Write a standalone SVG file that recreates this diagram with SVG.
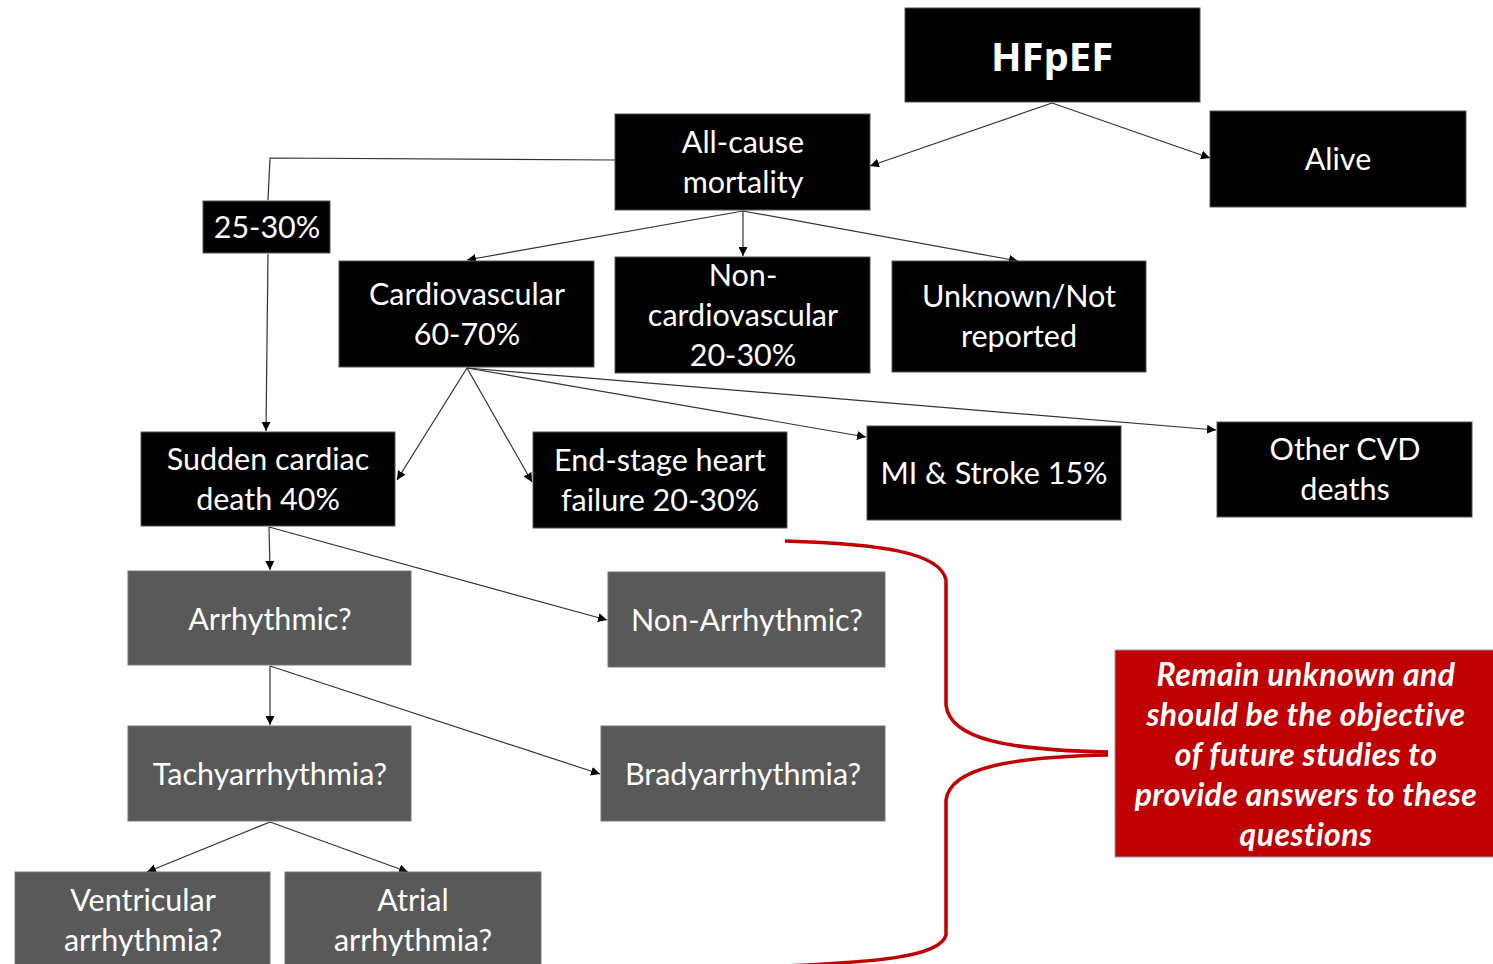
<svg xmlns="http://www.w3.org/2000/svg" width="1493" height="964" viewBox="0 0 1493 964">
<defs>
<style>
.b{fill:#000;stroke:#555;stroke-width:1}
.g{fill:#595959;stroke:#777;stroke-width:1}
.r{fill:#c00000;stroke:#999;stroke-width:1}
.t{font-family:Lato,"Open Sans","Liberation Sans",sans-serif;font-size:30.5px;fill:#fff;text-anchor:middle}
.h{font-family:"Open Sans",Lato,"Liberation Sans",sans-serif;font-size:40px;font-weight:bold;fill:#fff;text-anchor:middle}
.ti{font-family:Lato,"Open Sans","Liberation Sans",sans-serif;font-size:32px;font-weight:bold;font-style:italic;letter-spacing:0.4px;fill:#fff;text-anchor:middle}
.c{fill:none;stroke:#333;stroke-width:1.2;marker-end:url(#a)}
.l{fill:none;stroke:#333;stroke-width:1.2}
</style>
<marker id="a" viewBox="0 0 10 10" refX="10" refY="5" markerWidth="9" markerHeight="9" markerUnits="userSpaceOnUse" orient="auto">
<path d="M0,0 L10,5 L0,10 z" fill="#000"/>
</marker>
</defs>
<rect width="1493" height="964" fill="#fff"/>
<g id="connectors">
<line class="c" x1="1052" y1="103" x2="870" y2="166"/>
<line class="c" x1="1052" y1="103" x2="1210" y2="158"/>
<polyline class="l" points="615,160 270,158 268,200"/>
<line class="c" x1="268" y1="254" x2="266" y2="431"/>
<line class="c" x1="743" y1="211" x2="467" y2="260"/>
<line class="c" x1="743" y1="211" x2="743" y2="256"/>
<line class="c" x1="743" y1="211" x2="1018" y2="261"/>
<line class="c" x1="467" y1="368" x2="397" y2="480"/>
<line class="c" x1="467" y1="368" x2="532" y2="482"/>
<line class="c" x1="467" y1="368" x2="866" y2="437"/>
<line class="c" x1="467" y1="368" x2="1216" y2="430"/>
<line class="c" x1="269" y1="527" x2="270" y2="570"/>
<line class="c" x1="269" y1="527" x2="607" y2="620"/>
<line class="c" x1="270" y1="666" x2="270" y2="725"/>
<line class="c" x1="270" y1="666" x2="600" y2="774"/>
<line class="c" x1="270" y1="822" x2="147" y2="872"/>
<line class="c" x1="270" y1="822" x2="408" y2="872"/>
</g>
<g id="brace">
<path d="M785,541 C880,544 940,552 946,580 L946,705 C950,740 1010,750 1108,752 M1108,755 C1010,757 950,768 946,800 L946,935 C940,958 870,962 785,966" fill="none" stroke="#c00000" stroke-width="3.5"/>
</g>
<g id="hfpef"><rect class="b" x="905" y="8" width="295" height="94"/><text class="h" x="1052" y="71">HFpEF</text></g>
<g id="alive"><rect class="b" x="1210" y="111" width="256" height="96"/><text class="t" x="1338" y="170">Alive</text></g>
<g id="allcause"><rect class="b" x="615" y="114" width="255" height="96"/><text class="t" x="743" y="153">All-cause</text><text class="t" x="743" y="193">mortality</text></g>
<g id="pct2530"><rect class="b" x="203" y="201" width="127" height="52"/><text class="t" x="267" y="238">25-30%</text></g>
<g id="cardio"><rect class="b" x="339" y="261" width="255" height="106"/><text class="t" x="467" y="305">Cardiovascular</text><text class="t" x="467" y="345">60-70%</text></g>
<g id="noncardio"><rect class="b" x="615" y="257" width="255" height="116"/><text class="t" x="743" y="286">Non-</text><text class="t" x="743" y="326">cardiovascular</text><text class="t" x="743" y="366">20-30%</text></g>
<g id="unknown"><rect class="b" x="892" y="261" width="254" height="111"/><text class="t" x="1019" y="307">Unknown/Not</text><text class="t" x="1019" y="347">reported</text></g>
<g id="scd"><rect class="b" x="141" y="432" width="254" height="94"/><text class="t" x="268" y="470">Sudden cardiac</text><text class="t" x="268" y="510">death 40%</text></g>
<g id="endstage"><rect class="b" x="533" y="432" width="254" height="96"/><text class="t" x="660" y="471">End-stage heart</text><text class="t" x="660" y="511">failure 20-30%</text></g>
<g id="mistroke"><rect class="b" x="867" y="426" width="254" height="94"/><text class="t" x="994" y="484">MI &amp; Stroke 15%</text></g>
<g id="othercvd"><rect class="b" x="1217" y="422" width="255" height="95"/><text class="t" x="1345" y="460">Other CVD</text><text class="t" x="1345" y="500">deaths</text></g>
<g id="arrhythmic"><rect class="g" x="128" y="571" width="283" height="94"/><text class="t" x="270" y="630">Arrhythmic?</text></g>
<g id="nonarrhythmic"><rect class="g" x="608" y="572" width="277" height="95"/><text class="t" x="747" y="631">Non-Arrhythmic?</text></g>
<g id="tachy"><rect class="g" x="128" y="726" width="283" height="95"/><text class="t" x="270" y="785">Tachyarrhythmia?</text></g>
<g id="brady"><rect class="g" x="601" y="726" width="284" height="95"/><text class="t" x="743" y="785">Bradyarrhythmia?</text></g>
<g id="ventricular"><rect class="g" x="15" y="872" width="255" height="100"/><text class="t" x="143" y="911">Ventricular</text><text class="t" x="143" y="951">arrhythmia?</text></g>
<g id="atrial"><rect class="g" x="285" y="872" width="256" height="100"/><text class="t" x="413" y="911">Atrial</text><text class="t" x="413" y="951">arrhythmia?</text></g>
<g id="remain"><rect class="r" x="1115" y="650" width="385" height="207"/>
<text class="ti" x="1306" y="686">Remain unknown and</text>
<text class="ti" x="1306" y="726">should be the objective</text>
<text class="ti" x="1306" y="766">of future studies to</text>
<text class="ti" x="1306" y="806">provide answers to these</text>
<text class="ti" x="1306" y="846">questions</text>
</g>
</svg>
